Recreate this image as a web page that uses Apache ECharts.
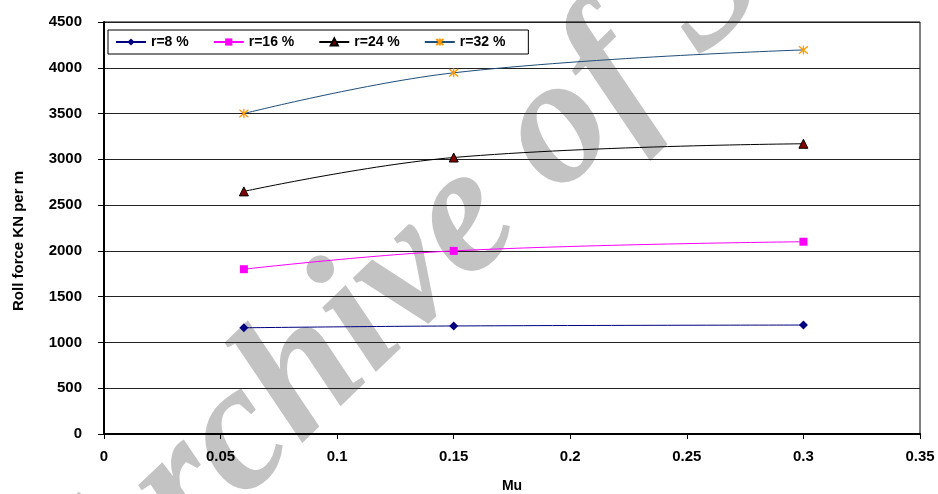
<!DOCTYPE html>
<html><head><meta charset="utf-8">
<script src="https://cdn.jsdelivr.net/npm/echarts@6/dist/echarts.min.js"></script>
<style>html,body{margin:0;padding:0;background:#fff}#c{width:938px;height:494px}</style>
</head><body><div id="c"></div>
<script>
// ---- data ----
const muValues = [0.06, 0.15, 0.3];
const seriesNames = ['r=8 %', 'r=16 %', 'r=24 %', 'r=32 %'];
const r8 = [1160, 1180, 1190];
const r16 = [1800, 2000, 2100];
const r24 = [2650, 3020, 3170];
const r32 = [3500, 3945, 4195];
const xMin = 0, xMax = 0.35, xStep = 0.05;
const yMin = 0, yMax = 4500, yStep = 500;
const xAxisTitle = 'Mu';
const yAxisTitle = 'Roll force KN per m';
const watermarkText = 'Archive of SID';

const FONT = '"Liberation Sans", Arial, sans-serif';
const pairs = arr => muValues.map((m, i) => [m, arr[i]]);

const chart = echarts.init(document.getElementById('c'), null, {renderer: 'canvas'});
const labelStyle = {color: '#000', fontFamily: FONT, fontWeight: 'bold', fontSize: 15};

chart.setOption({
  backgroundColor: '#fff',
  animation: false,
  graphic: [{
    type: 'text', z: -10, x: 478, y: 208, rotation: 44 * Math.PI / 180,
    style: {text: watermarkText, fill: '#c3c3c3', font: 'italic bold 182px "Liberation Serif", "Times New Roman", serif',
            align: 'center', verticalAlign: 'middle'}
  }],
  grid: {left: 104, right: 18, top: 22, bottom: 60, show: true, borderColor: '#000', borderWidth: 1,
         backgroundColor: 'transparent', outerBoundsMode: 'none', containLabel: false},
  legend: {
    left: 108, top: 30, padding: [5, 23, 5, 7], borderColor: '#000', borderWidth: 1,
    backgroundColor: '#fff',
    itemWidth: 30, itemHeight: 9, itemGap: 24,
    textStyle: {color: '#000', fontFamily: FONT, fontWeight: 'bold', fontSize: 14},
    data: seriesNames
  },
  xAxis: {
    type: 'value', min: xMin, max: xMax, interval: xStep,
    name: xAxisTitle, nameLocation: 'middle', nameGap: 45,
    nameTextStyle: {color: '#000', fontFamily: FONT, fontWeight: 'bold', fontSize: 14},
    axisLine: {show: true, onZero: false, lineStyle: {color: '#000', width: 2}},
    axisTick: {show: true, inside: false, length: 5, lineStyle: {color: '#000', width: 1}},
    axisLabel: Object.assign({margin: 15, formatter: v => String(v)}, labelStyle),
    splitLine: {show: false}
  },
  yAxis: {
    type: 'value', min: yMin, max: yMax, interval: yStep,
    name: yAxisTitle, nameLocation: 'middle', nameGap: 78,
    nameTextStyle: {color: '#000', fontFamily: FONT, fontWeight: 'bold', fontSize: 15, padding: [0, 26, 0, 0]},
    axisLine: {show: true, lineStyle: {color: '#000', width: 2}},
    axisTick: {show: true, inside: false, length: 6, lineStyle: {color: '#000', width: 1}},
    axisLabel: Object.assign({margin: 22, formatter: v => String(v)}, labelStyle),
    splitLine: {show: true, lineStyle: {color: '#222', width: 1}}
  },
  series: [
    {name: seriesNames[0], type: 'line', smooth: 0.4, data: pairs(r8),
     symbol: 'diamond', symbolSize: 9, color: '#000080',
     lineStyle: {color: '#000080', width: 1}, itemStyle: {color: '#000080'}},
    {name: seriesNames[1], type: 'line', smooth: 0.4, data: pairs(r16),
     symbol: 'rect', symbolSize: 8, color: '#ff00ff',
     lineStyle: {color: '#ff00ff', width: 1}, itemStyle: {color: '#ff00ff'}},
    {name: seriesNames[2], type: 'line', smooth: 0.4, data: pairs(r24),
     symbol: 'triangle', symbolSize: 9, color: '#000000',
     lineStyle: {color: '#000000', width: 1}, itemStyle: {color: '#800000', borderColor: '#000', borderWidth: 1}},
    {name: seriesNames[3], type: 'line', smooth: 0.4, data: pairs(r32),
     symbol: 'path://M5,0L5,10M0.8,0.8L9.2,9.2M0.8,9.2L9.2,0.8', symbolSize: 9, color: '#1f4e79',
     lineStyle: {color: '#1f4e79', width: 1}, itemStyle: {color: 'rgba(0,0,0,0)', borderColor: '#ff9900', borderWidth: 1.3}}
  ]
});
</script></body></html>
